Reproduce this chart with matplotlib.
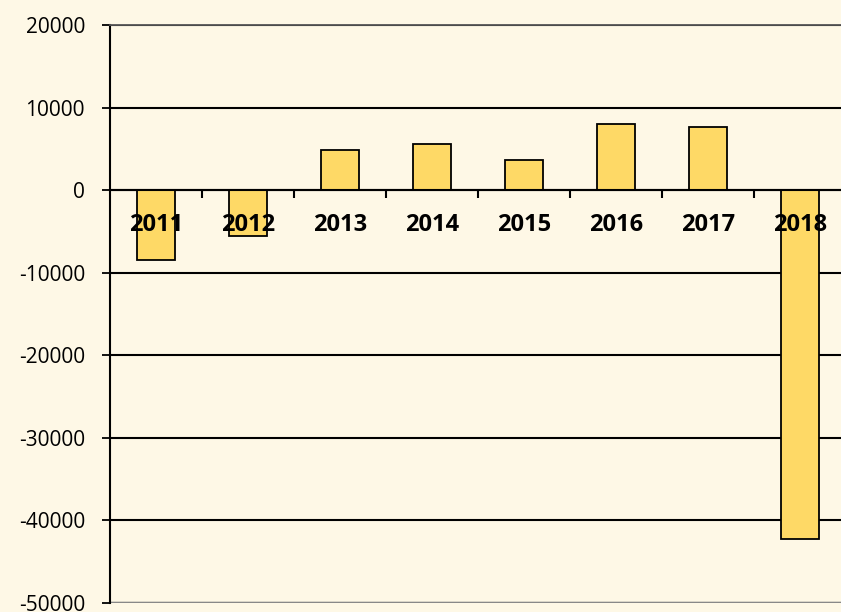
import matplotlib.pyplot as plt
from matplotlib.ticker import FixedLocator, NullFormatter

# yearly values
years = ['2011', '2012', '2013', '2014', '2015', '2016', '2017', '2018']
values = [-8500, -5600, 4900, 5600, 3600, 8000, 7600, -42300]

bg = '#fef8e6'
bar_color = '#fed966'

plt.rcParams['font.family'] = ['Open Sans', 'DejaVu Sans']
plt.rcParams['axes.unicode_minus'] = False

fig = plt.figure(figsize=(8.41, 6.12), dpi=100, facecolor=bg)
# plot area runs slightly past the right edge, like the original
ax = fig.add_axes([110 / 841, 9 / 612, 736 / 841, 578 / 612])
ax.set_facecolor(bg)

x = list(range(len(years)))
ax.bar(x, values, width=0.41, color=bar_color, edgecolor='black', linewidth=1.3, zorder=3)

ax.set_xlim(-0.5, len(years) - 0.5)
ax.set_ylim(-50000, 20000)
ax.set_yticks(range(-50000, 20001, 10000))
ax.tick_params(axis='y', direction='out', length=6, width=1.3, labelsize=15, pad=12)
ax.grid(axis='y', color='black', linewidth=1.5, zorder=1)

# category axis sits at zero, ticks between the bars
ax.spines['bottom'].set_position(('data', 0))
ax.spines['bottom'].set_linewidth(1.5)
ax.spines['bottom'].set_zorder(4)
ax.xaxis.set_major_locator(FixedLocator([i + 0.5 for i in x[:-1]]))
ax.xaxis.set_major_formatter(NullFormatter())
ax.tick_params(axis='x', which='major', direction='out', length=6, width=1.5)

# year labels drawn on top of the bars
for xi, yr in zip(x, years):
    ax.text(xi, -4250, yr, ha='center', va='center', fontsize=17,
            fontweight='bold', zorder=6)

ax.spines['left'].set_linewidth(1.5)
ax.spines['top'].set_color('#555555')
ax.spines['top'].set_linewidth(1.3)
ax.spines['right'].set_visible(False)
ax.axhline(-50000, color='#888888', linewidth=2.5, zorder=2)

fig.savefig('out.png', dpi=100, facecolor=bg)
